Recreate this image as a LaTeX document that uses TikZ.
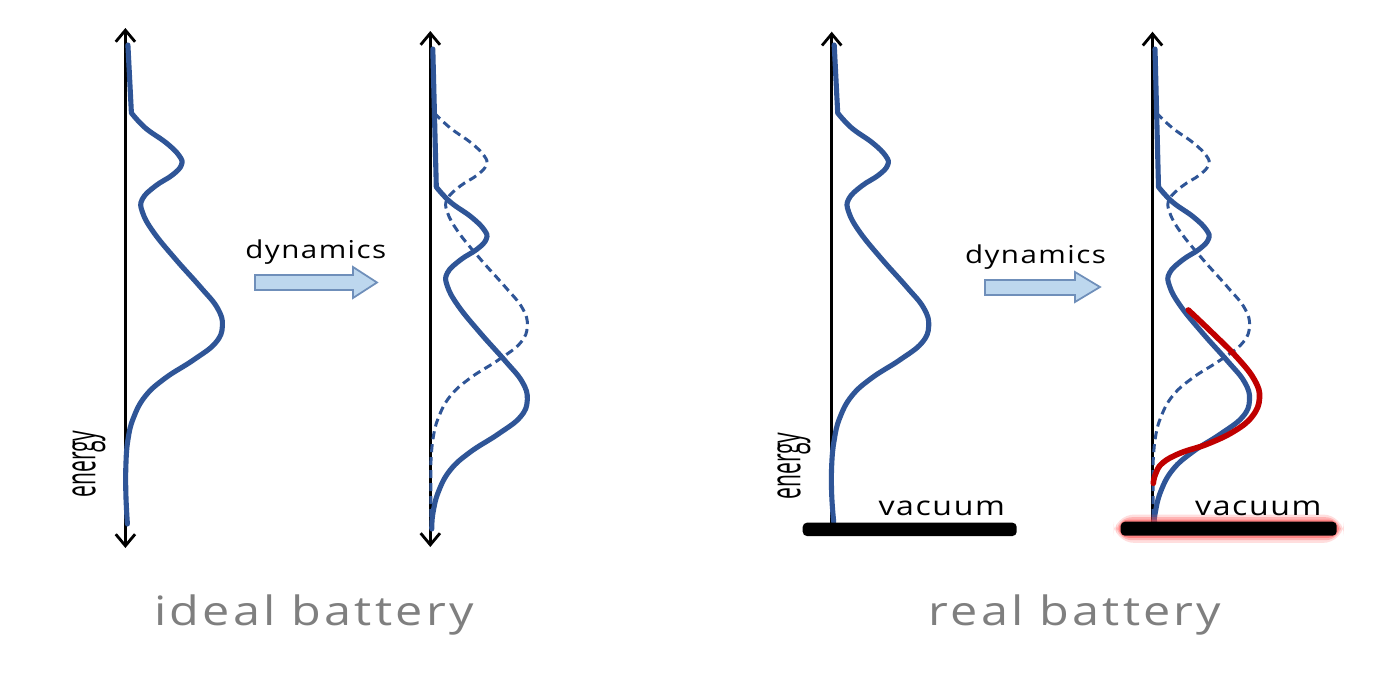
\documentclass[tikz,border=0pt]{standalone}
\usepackage{fontspec}
\setmainfont{Open Sans}
\newfontfamily\hand[FakeStretch=1.2,LetterSpace=6]{Open Sans}
\newfontfamily\handtitle[FakeStretch=1.2,LetterSpace=8]{Open Sans}
\newfontfamily\handnarrow[FakeStretch=0.5]{Open Sans}
\usetikzlibrary{arrows.meta}
\definecolor{curveblue}{HTML}{2F5597}
\definecolor{curvered}{HTML}{C00000}
\definecolor{arrowfill}{HTML}{BDD7EE}
\definecolor{arrowline}{HTML}{6F8FBA}
\definecolor{titlegray}{HTML}{7F7F7F}
\definecolor{glowred}{HTML}{FF4A4A}
\begin{document}
\begin{tikzpicture}[x=0.01cm,y=-0.01cm,
  axisboth/.style={line width=0.8pt, black, {Straight Barb[length=3.3pt,width=5.5pt]}-{Straight Barb[length=3.3pt,width=5.5pt]}},
  axistop/.style={line width=0.8pt, black, -{Straight Barb[length=3.3pt,width=5.5pt]}},
  solidcurve/.style={curveblue, line width=1.45pt, line join=round, line cap=round},
  dashcurve/.style={curveblue, line width=0.85pt, dash pattern=on 2.3pt off 1.4pt},
  redcurve/.style={curvered, line width=1.6pt, line cap=round},
  dynarrow/.style={fill=arrowfill, draw=arrowline, line width=0.5pt, line join=miter},
  dyntext/.style={font=\hand\fontsize{7}{8}\selectfont, anchor=base, inner sep=0pt},
  vactext/.style={font=\hand\fontsize{7.6}{9}\selectfont, anchor=base, inner sep=0pt},
  titletext/.style={font=\handtitle\fontsize{11.5}{13}\selectfont, text=titlegray, anchor=base, inner sep=0pt},
  energytext/.style={font=\handnarrow\fontsize{12}{13}\selectfont, rotate=90, inner sep=0pt},
  vacbar/.style={fill=black, rounded corners=1.2pt}
]
\fill[white] (0,0) rectangle (1400,700);
\useasboundingbox (0,0) rectangle (1400,700);

% ---------- axes ----------
\coordinate (a1top) at (125.4,28);
\coordinate (a1bot) at (125.4,548);
\coordinate (a2top) at (430.3,31);
\coordinate (a2bot) at (430.3,547);
\coordinate (a3top) at (831.7,31.7);
\coordinate (a3bot) at (831.7,523);
\coordinate (a4top) at (1152.5,31.7);
\coordinate (a4bot) at (1152.5,522);
\draw[axisboth] (a1bot) -- (a1top);
\draw[axisboth] (a2bot) -- (a2top);
\draw[axistop] (a3bot) -- (a3top);
\draw[axistop] (a4bot) -- (a4top);

% ---------- panel 1: ideal battery, before ----------
\begin{scope}[shift={(125.4,0)}]
\draw[solidcurve] (2.5,45) -- (6,113) -- plot[smooth,tension=0.7] coordinates {(6,113) (20,128) (41,143) (54,156) (56,165) (47,175) (30,186) (17,199) (17,212) (28,232) (50,259) (75,287) (92,308) (97,326) (90,343) (68,360) (40,378) (20,396) (8,418) (2.5,440) (0.5,465) (0.5,495) (2,524)};
\end{scope}

% ---------- panel 2: ideal battery, after ----------
\begin{scope}[shift={(430.3,0)}]
\draw[dashcurve] plot[smooth,tension=0.7] coordinates {(4,113) (20,128) (41,143) (54,156) (56,165) (47,175) (30,186) (17,199) (17,212) (28,232) (50,259) (75,287) (92,308) (97,326) (90,343) (68,360) (40,378) (20,396) (8,418) (2.5,440) (0.5,465)} -- (0.5,522);
\end{scope}
\begin{scope}[shift={(430.3,74)}]
\draw[solidcurve] (2.5,-25) -- (6,113) -- plot[smooth,tension=0.7] coordinates {(6,113) (20,128) (41,143) (54,156) (56,165) (47,175) (30,186) (17,199) (17,212) (28,232) (50,259) (75,287) (92,308) (97,326) (90,343) (68,360) (40,378) (20,396) (8,418) (2.5,440) (1.5,455)};
\end{scope}

% ---------- panel 3: real battery, before ----------
\begin{scope}[shift={(831.7,0)}]
\draw[solidcurve] (2.5,45) -- (6,113) -- plot[smooth,tension=0.7] coordinates {(6,113) (20,128) (41,143) (54,156) (56,165) (47,175) (30,186) (17,199) (17,212) (28,232) (50,259) (75,287) (92,308) (97,326) (90,343) (68,360) (40,378) (20,396) (8,418) (2.5,440) (0,465) (0,495) (2,522)};
\end{scope}

% ---------- panel 4: real battery, after ----------
\begin{scope}[shift={(1152.5,0)}]
\draw[dashcurve] plot[smooth,tension=0.7] coordinates {(4,113) (20,128) (41,143) (54,156) (56,165) (47,175) (30,186) (17,199) (17,212) (28,232) (50,259) (75,287) (92,308) (97,326) (90,343) (68,360) (40,378) (20,396) (8,418) (2.5,440) (0.5,465)} -- (0.5,521);
\end{scope}
\begin{scope}[shift={(1152.5,74)}]
\draw[solidcurve] (2.5,-25) -- (6,113) -- plot[smooth,tension=0.7] coordinates {(6,113) (20,128) (41,143) (54,156) (56,165) (47,175) (30,186) (17,199) (17,212) (28,232) (50,259) (75,287) (92,308) (97,326) (90,343) (68,360) (40,378) (20,396) (8,418) (2.5,440) (2,448)};
\end{scope}
\begin{scope}[shift={(1152.5,0)}]
\draw[redcurve] plot[smooth,tension=0.7] coordinates {(35.8,310) (60,333) (85,358) (102,380) (107,398) (100,416) (82,431) (55,444) (28,453) (10,463) (3,474) (0.8,483.3)};
\end{scope}

% ---------- vacuum bars ----------
\fill[vacbar] (802.7,522.7) rectangle (1016.7,536);
\fill[glowred, opacity=0.18, rounded corners=6pt] (1113.5,514.5) rectangle (1343.9,542.9);
\fill[glowred, opacity=0.28, rounded corners=4.5pt] (1116.2,517.2) rectangle (1341.2,540.2);
\fill[glowred, opacity=0.45, rounded corners=3pt] (1118.5,519.5) rectangle (1338.9,537.9);
\fill[vacbar] (1120.7,521.7) rectangle (1336.7,535.7);

% ---------- dynamics arrows ----------
\draw[dynarrow] (255,275) -- (353,275) -- (353,267) -- (377,282.5) -- (353,298) -- (353,290) -- (255,290) -- cycle;
\draw[dynarrow] (985,280) -- (1075,280) -- (1075,272) -- (1100,287) -- (1075,302) -- (1075,295) -- (985,295) -- cycle;

% ---------- texts ----------
\node[dyntext] (dyn1) at (315.8,258.3) {dynamics};
\node[dyntext] (dyn2) at (1035.5,263.5) {dynamics};
\node[energytext] (en1) at (89,464) {energy};
\node[energytext] (en2) at (794,466) {energy};
\node[vactext] (vac1) at (941.7,515) {vacuum};
\node[vactext] (vac2) at (1258.3,515) {vacuum};
\node[titletext] (title1) at (314,625) {ideal battery};
\node[titletext] (title2) at (1075,625) {real battery};
\end{tikzpicture}
\end{document}
